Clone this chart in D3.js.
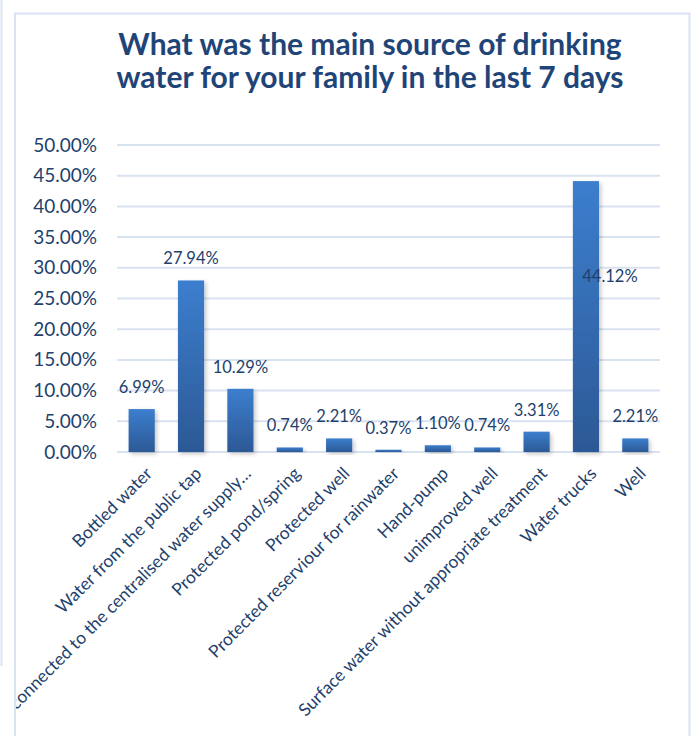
<!DOCTYPE html>
<html>
<head>
<meta charset="utf-8">
<script src="https://cdn.jsdelivr.net/npm/d3@7/dist/d3.min.js"></script>
<style>
  html, body { margin: 0; padding: 0; background: #fff; }
  svg { display: block; }
  text { font-family: Lato, "Open Sans", sans-serif; }
</style>
</head>
<body>
<svg id="chart" width="695" height="736"></svg>
<script>
// Main drinking-water source, share of families (last 7 days)
const titleLines = [
  "What was the main source of drinking",
  "water for your family in the last 7 days"
];
const categories = [
  "Bottled water",
  "Water from the public tap",
  "connected to the centralised water supply…",
  "Protected pond/spring",
  "Protected well",
  "Protected reserviour for rainwater",
  "Hand-pump",
  "unimproved well",
  "Surface water without appropriate treatment",
  "Water trucks",
  "Well"
];
const values = [6.99, 27.94, 10.29, 0.74, 2.21, 0.37, 1.10, 0.74, 3.31, 44.12, 2.21];
const yTicks = [0, 5, 10, 15, 20, 25, 30, 35, 40, 45, 50];

const W = 695, H = 736;
const plot = { left: 117, right: 660, top: 145, bottom: 452 };
const textColor = "#233f6c";
const gridColor = "#d9e2f1";

const svg = d3.select("#chart");
const defs = svg.append("defs");

// vertical gradient for the bars (lighter at top)
const grad = defs.append("linearGradient")
  .attr("id", "barGrad").attr("x1", 0).attr("y1", 0).attr("x2", 0).attr("y2", 1);
grad.append("stop").attr("offset", "0%").attr("stop-color", "#3c7ece");
grad.append("stop").attr("offset", "100%").attr("stop-color", "#2c5995");

// soft shadow under the bars
const shadow = defs.append("filter").attr("id", "barShadow")
  .attr("x", "-30%").attr("y", "-10%").attr("width", "170%").attr("height", "130%");
shadow.append("feDropShadow").attr("dx", 2).attr("dy", 2).attr("stdDeviation", 2)
  .attr("flood-color", "#000").attr("flood-opacity", 0.22);

// clip for the chart frame
defs.append("clipPath").attr("id", "frameClip")
  .append("rect").attr("x", 16).attr("y", 14).attr("width", 673).attr("height", H - 14);

// outer and inner frame lines
svg.append("line").attr("x1", 1.5).attr("x2", 1.5).attr("y1", 0).attr("y2", 666)
  .attr("stroke", "#dbe4f2").attr("stroke-width", 2);
svg.append("path")
  .attr("d", `M15,${H} V13.5 H689.5 V${H}`)
  .attr("fill", "none").attr("stroke", "#d9e3f3").attr("stroke-width", 2);

// title
const title = svg.append("g").attr("class", "title");
titleLines.forEach((t, i) => {
  title.append("text")
    .attr("x", 370).attr("y", 55 + i * 33)
    .attr("text-anchor", "middle")
    .attr("font-size", 30).attr("font-weight", 700)
    .attr("fill", "#1f4578")
    .text(t);
});

// scales
const x = d3.scaleBand().domain(categories)
  .range([plot.left, plot.right]).paddingInner(0.47).paddingOuter(0.235);
const y = d3.scaleLinear().domain([0, 50]).range([plot.bottom, plot.top]);

// gridlines
svg.append("g").selectAll("line").data(yTicks).join("line")
  .attr("x1", plot.left).attr("x2", plot.right)
  .attr("y1", d => y(d)).attr("y2", d => y(d))
  .attr("stroke", gridColor).attr("stroke-width", 2);

// y axis labels
const yAxis = d3.axisLeft(y).tickValues(yTicks)
  .tickFormat(d => d3.format(".2f")(d) + "%").tickSize(0).tickPadding(0);
const yG = svg.append("g").attr("transform", `translate(97,0)`).call(yAxis);
yG.select(".domain").remove();
yG.selectAll("text").attr("font-size", 19).attr("fill", textColor)
  .attr("font-family", "Lato, 'Open Sans', sans-serif");

// bars
svg.append("g").selectAll("rect").data(values).join("rect")
  .attr("x", (d, i) => x(categories[i]))
  .attr("y", d => y(d))
  .attr("width", x.bandwidth())
  .attr("height", d => y(0) - y(d))
  .attr("fill", "url(#barGrad)")
  .attr("filter", "url(#barShadow)");

// value labels; the tallest bar carries its label inside, nudged right
const maxVal = d3.max(values);
svg.append("g").selectAll("text").data(values).join("text")
  .attr("x", (d, i) => x(categories[i]) + x.bandwidth() / 2 + (d === maxVal ? 24 : 0))
  .attr("y", d => d === maxVal ? y(d) + 101 : y(d) - 16)
  .attr("text-anchor", "middle")
  .attr("font-size", 16.5).attr("fill", textColor)
  .text(d => d3.format(".2f")(d) + "%");

// category labels, rotated 45 degrees
const xG = svg.append("g").attr("clip-path", "url(#frameClip)");
xG.selectAll("text").data(categories).join("text")
  .attr("transform", d => `translate(${x(d) + x.bandwidth() / 2 + 3},${plot.bottom + 14}) rotate(-45)`)
  .attr("text-anchor", "end")
  .attr("dy", "0.7em")
  .attr("font-size", 17.5).attr("fill", textColor)
  .text(d => d);
</script>
</body>
</html>
